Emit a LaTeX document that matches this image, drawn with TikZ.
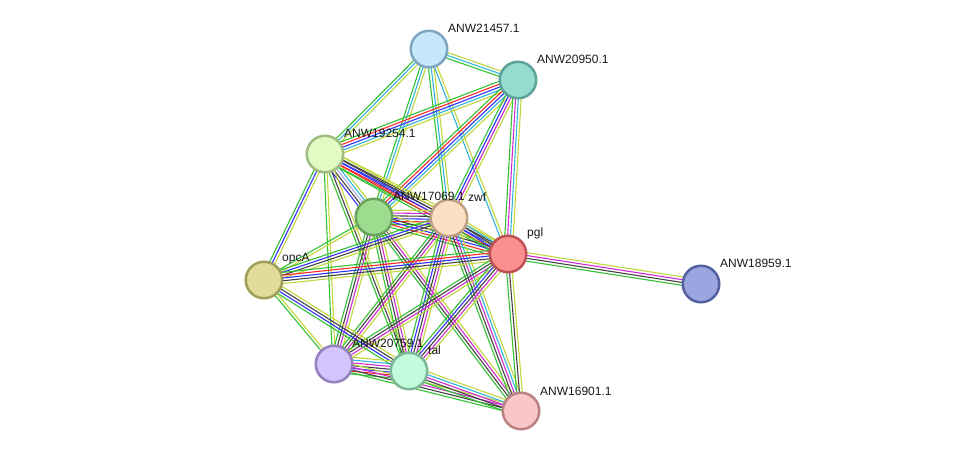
\documentclass[tikz,border=0pt]{standalone}
\usepackage{fontspec}
\setmainfont{Liberation Sans}
\usetikzlibrary{calc}
\pgfdeclarelayer{bg}
\pgfsetlayers{bg,main}
\definecolor{eg}{HTML}{33C233}
\definecolor{er}{HTML}{FF2A2A}
\definecolor{eb}{HTML}{3333FF}
\definecolor{ek}{HTML}{444444}
\definecolor{em}{HTML}{D22AD2}
\definecolor{ec}{HTML}{33B5DA}
\definecolor{ey}{HTML}{C2D63A}
\definecolor{el}{HTML}{ABABF2}
\tikzset{
  prot/.style={circle, minimum size=36.5pt, inner sep=0pt, line width=2.5pt},
  lab/.style={anchor=west, font=\fontsize{12pt}{14pt}\selectfont, text=black!90, inner sep=0pt},
}
\newcommand\stredge[4]{%
  \foreach \c [count=\i] in {#4}{%
    \pgfmathsetmacro\off{(\i-(#3+1)/2)*2.8}%
    \draw[\c, line width=1.1pt] ($(#1)!\off pt!90:(#2)$) -- ($(#2)!\off pt!-90:(#1)$);
  }%
}
\begin{document}
\begin{tikzpicture}[x=1pt,y=-1pt]
\useasboundingbox (0,0) rectangle (975,458);
\node[prot, fill={rgb,255:red,197;green,232;blue,251}, draw={rgb,255:red,126;green,166;blue,192}] (A) at (429,49) {};
\node[prot, fill={rgb,255:red,150;green,220;blue,208}, draw={rgb,255:red,92;green,164;blue,154}] (B) at (518,80) {};
\node[prot, fill={rgb,255:red,224;green,252;blue,196}, draw={rgb,255:red,160;green,188;blue,128}] (C) at (325,154) {};
\node[prot, fill={rgb,255:red,157;green,219;blue,142}, draw={rgb,255:red,104;green,162;blue,92}] (D) at (374,217) {};
\node[prot, fill={rgb,255:red,253;green,224;blue,196}, draw={rgb,255:red,190;green,160;blue,130}] (Z) at (449,218) {};
\node[prot, fill={rgb,255:red,251;green,144;blue,144}, draw={rgb,255:red,190;green,82;blue,82}] (P) at (508,254) {};
\node[prot, fill={rgb,255:red,155;green,166;blue,224}, draw={rgb,255:red,85;green,96;blue,160}] (E) at (701,284) {};
\node[prot, fill={rgb,255:red,224;green,219;blue,152}, draw={rgb,255:red,160;green,156;blue,90}] (O) at (264,280) {};
\node[prot, fill={rgb,255:red,211;green,196;blue,251}, draw={rgb,255:red,148;green,130;blue,190}] (F) at (334,364) {};
\node[prot, fill={rgb,255:red,194;green,252;blue,220}, draw={rgb,255:red,126;green,182;blue,152}] (T) at (409,371) {};
\node[prot, fill={rgb,255:red,249;green,199;blue,199}, draw={rgb,255:red,186;green,130;blue,130}] (G) at (521,411) {};
\begin{pgfonlayer}{bg}
\stredge{A}{B}{3}{eg,ec,ey}
\stredge{A}{C}{3}{eg,ec,ey}
\stredge{A}{D}{3}{eg,ec,ey}
\stredge{A}{Z}{3}{eg,ec,ey}
\stredge{A}{P}{2}{ec,ey}
\stredge{B}{C}{5}{eg,er,eb,ec,ey}
\stredge{B}{D}{5}{eg,er,eb,ec,ey}
\stredge{B}{Z}{4}{eg,eb,em,ey}
\stredge{B}{P}{4}{eg,em,ec,ey}
\stredge{C}{D}{5}{eb,ek,el,ec,ey}
\stredge{C}{Z}{5}{eg,er,eb,ek,ey}
\stredge{C}{P}{5}{eg,er,eb,ek,ey}
\stredge{C}{O}{3}{eg,eb,ey}
\stredge{C}{F}{2}{eg,ey}
\stredge{C}{T}{3}{eg,ek,ey}
\stredge{D}{Z}{6}{eg,er,eb,ek,em,ey}
\stredge{D}{P}{5}{eg,er,eb,ek,ey}
\stredge{D}{O}{2}{eg,ey}
\stredge{D}{F}{4}{eg,ek,em,ey}
\stredge{D}{T}{4}{eg,ek,em,ey}
\stredge{D}{G}{4}{eg,ek,em,ey}
\stredge{Z}{P}{5}{eg,eb,ek,ec,ey}
\stredge{Z}{O}{4}{eg,eb,ek,ey}
\stredge{Z}{F}{4}{eg,ek,em,ey}
\stredge{Z}{T}{5}{eg,eb,ek,em,ey}
\stredge{Z}{G}{5}{eg,ek,em,ec,ey}
\stredge{P}{E}{4}{eg,ek,em,ey}
\stredge{P}{O}{5}{eg,er,eb,ek,ey}
\stredge{P}{F}{4}{eg,ek,em,ey}
\stredge{P}{T}{5}{eg,eb,ek,em,ey}
\stredge{P}{G}{3}{eg,ek,ey}
\stredge{O}{F}{2}{eg,ey}
\stredge{O}{T}{4}{eg,eb,ek,ey}
\stredge{F}{T}{7}{eg,er,eb,ek,em,ec,ey}
\stredge{F}{G}{4}{eg,ek,em,ey}
\stredge{T}{G}{5}{eg,ek,em,ec,ey}
\end{pgfonlayer}
\node[lab] (lA) at (448,28) {ANW21457.1};
\node[lab] (lB) at (537,59) {ANW20950.1};
\node[lab] (lC) at (344,133) {ANW19254.1};
\node[lab] (lD) at (393,196) {ANW17069.1};
\node[lab] (lZ) at (468,197) {zwf};
\node[lab] (lP) at (527,233) {pgl};
\node[lab] (lE) at (720,263) {ANW18959.1};
\node[lab] (lO) at (282,259) {opcA};
\node[lab] (lF) at (352,343) {ANW20759.1};
\node[lab] (lT) at (428,350) {tal};
\node[lab] (lG) at (540,391) {ANW16901.1};
\end{tikzpicture}
\end{document}
